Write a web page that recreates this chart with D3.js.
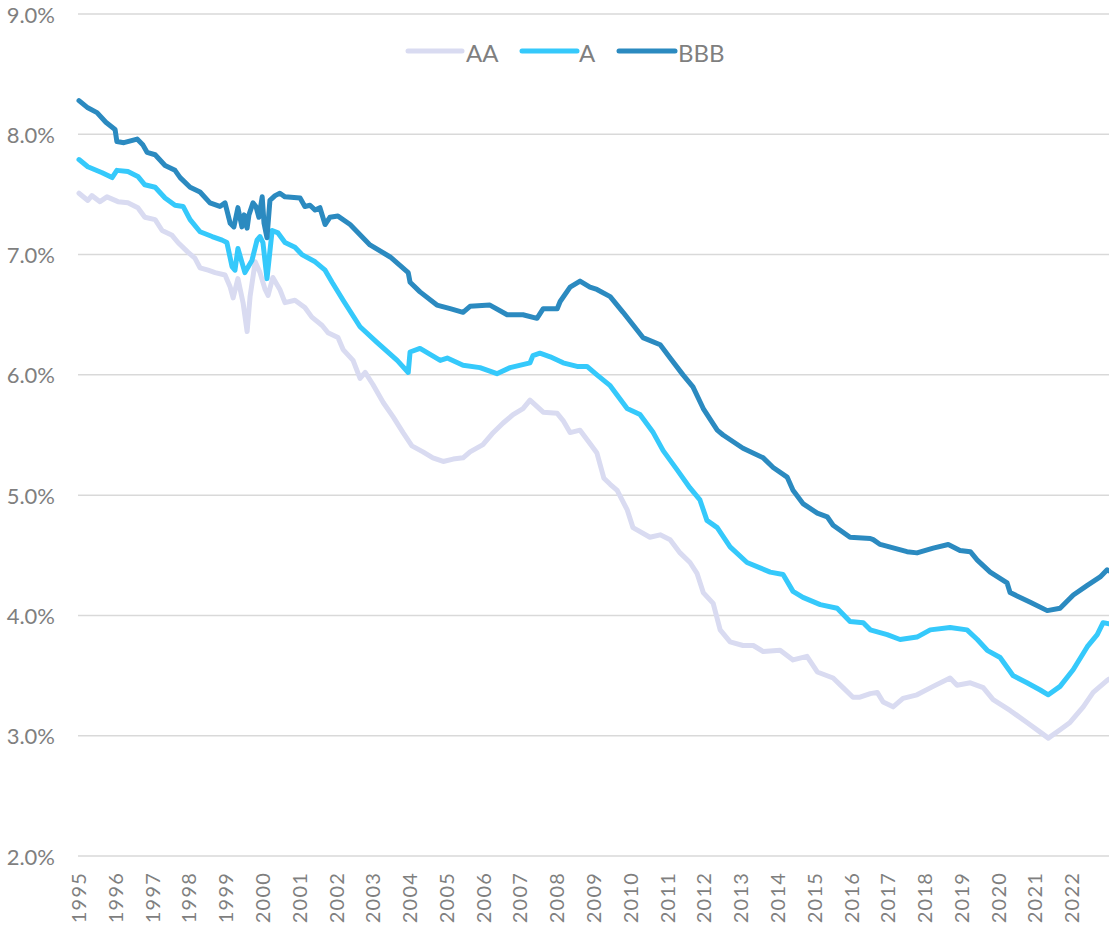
<!DOCTYPE html>
<html>
<head>
<meta charset="utf-8">
<script src="https://cdn.jsdelivr.net/npm/d3@7"></script>
<style>
  html, body { margin: 0; padding: 0; background: #ffffff; }
  svg { display: block; }
  text { font-family: Lato, "Open Sans", sans-serif; fill: #7f7f7f; }
</style>
</head>
<body>
<svg id="chart" width="1109" height="927"></svg>
<script>
// ---- data (decimal year, yield %) ----
const seriesNames = ["AA", "A", "BBB"];
const yTicks = [2, 3, 4, 5, 6, 7, 8, 9];
const xTickYears = d3.range(1995, 2023);

const aaYears = [1995.00,1995.24,1995.35,1995.57,1995.76,1996.06,1996.33,1996.60,1996.79,1997.07,1997.26,1997.53,1997.69,1997.96,1998.15,1998.29,1998.51,1998.70,1998.97,1999.11,1999.19,1999.32,1999.46,1999.57,1999.65,1999.79,1999.92,2000.06,2000.14,2000.27,2000.46,2000.60,2000.87,2001.14,2001.33,2001.61,2001.77,2002.04,2002.18,2002.45,2002.64,2002.78,2002.99,2003.27,2003.54,2003.81,2004.05,2004.35,2004.62,2004.90,2005.17,2005.44,2005.63,2005.98,2006.23,2006.53,2006.80,2007.07,2007.26,2007.62,2008.00,2008.16,2008.35,2008.62,2008.89,2009.08,2009.27,2009.44,2009.63,2009.90,2010.06,2010.52,2010.80,2011.07,2011.34,2011.61,2011.80,2011.97,2012.24,2012.43,2012.70,2013.05,2013.33,2013.60,2014.06,2014.41,2014.79,2015.07,2015.50,2015.77,2016.04,2016.23,2016.51,2016.70,2016.86,2017.13,2017.40,2017.78,2018.22,2018.68,2018.87,2019.23,2019.58,2019.85,2020.31,2020.77,2021.13,2021.35,2021.67,2021.94,2022.30,2022.57,2022.95,2023.00];
const aaValues = [7.51,7.45,7.49,7.44,7.48,7.44,7.43,7.39,7.31,7.29,7.20,7.16,7.10,7.02,6.97,6.89,6.87,6.85,6.83,6.73,6.64,6.80,6.60,6.36,6.65,6.94,6.85,6.71,6.66,6.81,6.71,6.60,6.62,6.56,6.48,6.41,6.35,6.31,6.21,6.12,5.97,6.02,5.92,5.77,5.65,5.52,5.41,5.36,5.31,5.28,5.30,5.31,5.36,5.42,5.51,5.60,5.67,5.72,5.79,5.69,5.68,5.62,5.52,5.54,5.43,5.35,5.14,5.09,5.04,4.88,4.73,4.65,4.67,4.63,4.52,4.44,4.35,4.19,4.10,3.88,3.78,3.75,3.75,3.70,3.71,3.63,3.66,3.53,3.48,3.40,3.32,3.32,3.35,3.36,3.28,3.24,3.31,3.34,3.41,3.48,3.42,3.44,3.40,3.30,3.21,3.11,3.03,2.98,3.05,3.11,3.24,3.36,3.46,3.47];

const aYears = [1995.00,1995.24,1995.63,1995.90,1996.03,1996.33,1996.60,1996.79,1997.07,1997.34,1997.61,1997.83,1998.02,1998.29,1998.62,1998.89,1999.02,1999.16,1999.24,1999.32,1999.51,1999.70,1999.84,1999.92,2000.00,2000.11,2000.25,2000.41,2000.60,2000.87,2001.06,2001.42,2001.69,2001.88,2002.18,2002.64,2003.10,2003.65,2003.95,2004.00,2004.27,2004.82,2005.01,2005.44,2005.90,2006.36,2006.72,2007.26,2007.34,2007.53,2007.81,2008.16,2008.54,2008.81,2009.08,2009.44,2009.90,2010.25,2010.61,2010.88,2011.26,2011.61,2011.88,2012.07,2012.35,2012.70,2013.16,2013.79,2014.14,2014.41,2014.68,2015.15,2015.61,2015.96,2016.32,2016.51,2016.97,2017.32,2017.78,2018.14,2018.68,2019.14,2019.42,2019.69,2020.04,2020.39,2020.77,2021.13,2021.35,2021.67,2022.03,2022.41,2022.68,2022.84,2023.00];
const aValues = [7.79,7.73,7.68,7.64,7.70,7.69,7.65,7.58,7.56,7.47,7.41,7.40,7.29,7.19,7.15,7.12,7.10,6.90,6.87,7.05,6.85,6.95,7.12,7.15,7.10,6.80,7.20,7.18,7.10,7.06,7.00,6.94,6.87,6.77,6.62,6.40,6.27,6.12,6.02,6.19,6.22,6.12,6.14,6.08,6.06,6.01,6.06,6.10,6.16,6.18,6.15,6.10,6.07,6.07,6.00,5.91,5.72,5.67,5.52,5.37,5.21,5.06,4.96,4.79,4.73,4.57,4.44,4.36,4.34,4.20,4.15,4.09,4.06,3.95,3.94,3.88,3.84,3.80,3.82,3.88,3.90,3.88,3.80,3.71,3.65,3.50,3.44,3.38,3.34,3.41,3.55,3.74,3.84,3.94,3.93];

const bbbYears = [1995.00,1995.24,1995.49,1995.73,1995.98,1996.03,1996.22,1996.58,1996.74,1996.85,1997.07,1997.34,1997.61,1997.75,1998.02,1998.29,1998.56,1998.83,1998.97,1999.11,1999.21,1999.32,1999.43,1999.49,1999.57,1999.62,1999.73,1999.81,1999.89,1999.98,2000.03,2000.11,2000.19,2000.33,2000.46,2000.60,2001.01,2001.14,2001.28,2001.42,2001.55,2001.69,2001.82,2002.04,2002.37,2002.91,2003.46,2003.95,2004.00,2004.27,2004.73,2005.09,2005.44,2005.63,2006.17,2006.64,2007.07,2007.45,2007.62,2008.00,2008.08,2008.35,2008.62,2008.89,2009.08,2009.44,2009.79,2010.33,2010.80,2011.07,2011.42,2011.69,2011.97,2012.35,2012.51,2013.05,2013.60,2013.87,2014.25,2014.41,2014.68,2015.07,2015.34,2015.50,2015.96,2016.51,2016.59,2016.78,2017.51,2017.78,2018.22,2018.63,2018.95,2019.23,2019.42,2019.77,2020.23,2020.31,2020.86,2021.32,2021.67,2022.03,2022.41,2022.76,2022.95,2023.00];
const bbbValues = [8.28,8.22,8.18,8.10,8.04,7.94,7.93,7.96,7.91,7.85,7.83,7.74,7.70,7.64,7.56,7.52,7.43,7.40,7.43,7.26,7.23,7.39,7.23,7.33,7.22,7.33,7.43,7.40,7.31,7.48,7.26,7.14,7.45,7.49,7.51,7.48,7.47,7.40,7.41,7.37,7.39,7.25,7.31,7.32,7.25,7.08,6.98,6.85,6.77,6.69,6.58,6.55,6.52,6.57,6.58,6.50,6.50,6.47,6.55,6.55,6.61,6.73,6.78,6.73,6.71,6.65,6.52,6.31,6.25,6.14,6.00,5.90,5.72,5.54,5.50,5.39,5.31,5.23,5.15,5.04,4.93,4.85,4.82,4.75,4.65,4.64,4.63,4.59,4.53,4.52,4.56,4.59,4.54,4.53,4.46,4.36,4.27,4.19,4.11,4.04,4.06,4.17,4.25,4.32,4.38,4.37];

const seriesColors = ["#d9dbf1", "#35c9fb", "#2b8ac0"];

// ---- layout ----
const svg = d3.select("#chart");
const plotLeft = 79, plotRight = 1109, plotTop = 14, plotBottom = 856;

const xScale = d3.scaleLinear().domain([1995, 2023]).range([plotLeft, plotRight]);
const yScale = d3.scaleLinear().domain([2, 9]).range([plotBottom, plotTop]);

// gridlines
svg.append("g").selectAll("line").data(yTicks).join("line")
  .attr("x1", plotLeft - 1).attr("x2", plotRight)
  .attr("y1", d => yScale(d)).attr("y2", d => yScale(d))
  .attr("stroke", "#d9d9d9").attr("stroke-width", 1.5);

// y labels
svg.append("g").selectAll("text").data(yTicks).join("text")
  .attr("x", 55).attr("y", d => yScale(d))
  .attr("text-anchor", "end").attr("dominant-baseline", "central")
  .style("font-size", "22px")
  .text(d => d3.format(".1f")(d) + "%");

// x labels (rotated)
svg.append("g").selectAll("text").data(xTickYears).join("text")
  .attr("transform", d => `translate(${xScale(d) + 7},872) rotate(-90)`)
  .attr("text-anchor", "end")
  .style("font-size", "20px")
  .style("letter-spacing", "1.2px")
  .text(d => d);

// lines
const series = [
  { name: seriesNames[0], xs: aaYears, vs: aaValues, color: seriesColors[0] },
  { name: seriesNames[1], xs: aYears, vs: aValues, color: seriesColors[1] },
  { name: seriesNames[2], xs: bbbYears, vs: bbbValues, color: seriesColors[2] }
];
const lineGen = d3.line().x(d => xScale(d[0])).y(d => yScale(d[1]));
svg.append("g").selectAll("path").data(series).join("path")
  .attr("d", s => lineGen(s.xs.map((v, i) => [v, s.vs[i]])))
  .attr("fill", "none")
  .attr("stroke", s => s.color)
  .attr("stroke-width", 5)
  .attr("stroke-linejoin", "round")
  .attr("stroke-linecap", "round");

// legend
const legendItems = [
  { x0: 408, x1: 462, tx: 466 },
  { x0: 522, x1: 577, tx: 579 },
  { x0: 619, x1: 675, tx: 678 }
];
const lg = svg.append("g");
series.forEach((s, i) => {
  const it = legendItems[i];
  lg.append("line").attr("x1", it.x0).attr("x2", it.x1).attr("y1", 51).attr("y2", 51)
    .attr("stroke", s.color).attr("stroke-width", 5).attr("stroke-linecap", "round");
  lg.append("text").attr("x", it.tx).attr("y", 52).attr("dominant-baseline", "central")
    .style("font-size", "24px").text(s.name);
});
</script>
</body>
</html>
